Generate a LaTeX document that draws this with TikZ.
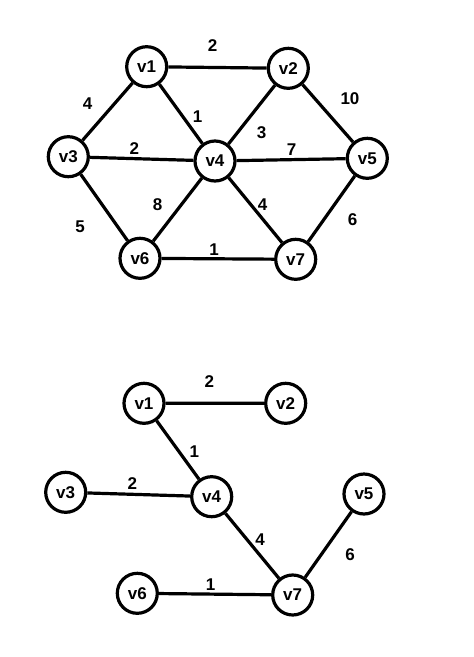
\documentclass[tikz,border=0pt]{standalone}
\usepackage{fontspec}
\setmainfont{Liberation Sans}
\begin{document}
\begin{tikzpicture}[x=1pt,y=-1pt,
  vtx/.style={circle,draw,line width=3.2pt,minimum size=40pt,inner sep=0pt,font=\fontsize{17}{17}\selectfont\bfseries},
  wt/.style={font=\fontsize{17}{17}\selectfont\bfseries,inner sep=0pt},
  edge/.style={line width=3.2pt}]
\useasboundingbox (0,0) rectangle (474,657);
% top graph
\node[vtx] (a1) at (146.7,66.7) {v1};
\node[vtx] (a2) at (288.3,68.3) {v2};
\node[vtx] (a3) at (68.3,156.7) {v3};
\node[vtx] (a4) at (215,161) {v4};
\node[vtx] (a5) at (367.3,158.3) {v5};
\node[vtx] (a6) at (140,258.3) {v6};
\node[vtx] (a7) at (295.7,259.3) {v7};
\draw[edge] (a1)--(a2) (a1)--(a3) (a1)--(a4) (a2)--(a4) (a2)--(a5)
  (a3)--(a4) (a4)--(a5) (a3)--(a6) (a4)--(a6) (a4)--(a7) (a5)--(a7) (a6)--(a7);
\node[wt] (la12) at (212.7,46) {2};
\node[wt] (la13) at (87.7,103.3) {4};
\node[wt] (la14) at (197.7,116.7) {1};
\node[wt] (la24) at (261.7,132.7) {3};
\node[wt] (la25) at (350,98.3) {10};
\node[wt] (la34) at (134.3,148.3) {2};
\node[wt] (la45) at (291.7,149.3) {7};
\node[wt] (la46) at (157.7,205) {8};
\node[wt] (la47) at (262.7,204.3) {4};
\node[wt] (la36) at (80,226.7) {5};
\node[wt] (la57) at (352.7,220) {6};
\node[wt] (la67) at (214,249.3) {1};
% bottom graph
\node[vtx] (b1) at (144,403.3) {v1};
\node[vtx] (b2) at (285.7,403.3) {v2};
\node[vtx] (b3) at (65.7,492.3) {v3};
\node[vtx] (b4) at (211.7,496.7) {v4};
\node[vtx] (b5) at (364,494) {v5};
\node[vtx] (b6) at (137.3,593.3) {v6};
\node[vtx] (b7) at (292.7,595) {v7};
\draw[edge] (b1)--(b2) (b1)--(b4) (b3)--(b4) (b4)--(b7) (b5)--(b7) (b6)--(b7);
\node[wt] (lb12) at (209.3,381.7) {2};
\node[wt] (lb14) at (194.3,451.7) {1};
\node[wt] (lb34) at (132.3,484) {2};
\node[wt] (lb47) at (260,539.3) {4};
\node[wt] (lb57) at (350,555) {6};
\node[wt] (lb67) at (210.7,584.3) {1};
\end{tikzpicture}
\end{document}
